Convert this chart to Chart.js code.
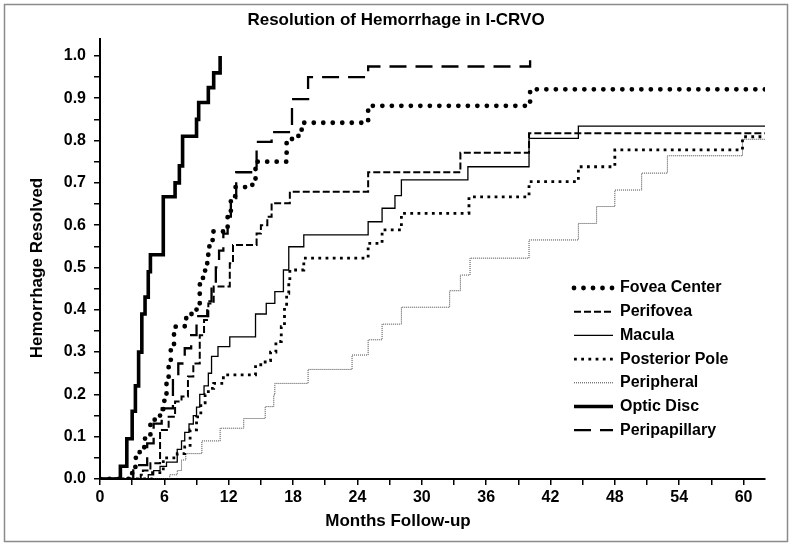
<!DOCTYPE html>
<html>
<head>
<meta charset="utf-8">
<script src="https://cdn.jsdelivr.net/npm/chart.js@4.4.1/dist/chart.umd.min.js"></script>
<style>
  html, body { margin: 0; padding: 0; background: #fff; }
  #wrap { width: 792px; height: 547px; }
</style>
</head>
<body>
<div id="wrap"><canvas id="grafico" width="792" height="547"></canvas></div>
<script>
// meses de seguimento e fração resolvida (curvas em degrau)
const foveaMonths = [0, 3.0, 3.3, 3.7, 4.2, 4.7, 5.1, 5.6, 6.0, 6.2, 6.4, 6.6, 6.9, 7.9, 8.5, 9.0, 9.3, 9.6, 9.8, 10.0, 10.2, 10.5, 11.9, 12.2, 12.6, 14.2, 14.5, 17.4, 17.9, 18.5, 18.8, 25.0, 40.1, 62];
const foveaValues = [0, 0.02, 0.05, 0.075, 0.10, 0.13, 0.15, 0.165, 0.20, 0.24, 0.27, 0.31, 0.36, 0.38, 0.39, 0.415, 0.46, 0.48, 0.51, 0.53, 0.55, 0.585, 0.62, 0.66, 0.69, 0.71, 0.75, 0.80, 0.81, 0.82, 0.842, 0.882, 0.921, 0.921];

const perifoveaMonths = [0, 3.8, 4.0, 4.7, 5.6, 6.4, 7.0, 7.6, 8.2, 8.7, 9.3, 9.7, 10.1, 10.6, 12.1, 12.4, 14.6, 15.0, 15.6, 16.0, 17.7, 25.0, 33.6, 40.0, 62];
const perifoveaValues = [0, 0.01, 0.02, 0.037, 0.116, 0.147, 0.183, 0.195, 0.242, 0.273, 0.34, 0.376, 0.415, 0.455, 0.51, 0.553, 0.58, 0.60, 0.62, 0.652, 0.679, 0.725, 0.771, 0.817, 0.817];

const maculaMonths = [0, 4.5, 5.0, 5.6, 6.2, 7.2, 7.6, 7.9, 8.3, 8.7, 9.0, 9.3, 9.7, 10.1, 10.4, 11.0, 12.1, 14.5, 15.5, 16.3, 17.1, 17.6, 19.0, 25.0, 26.3, 27.5, 28.1, 34.3, 40.0, 44.6, 62];
const maculaValues = [0, 0.01, 0.02, 0.03, 0.04, 0.07, 0.09, 0.11, 0.13, 0.15, 0.17, 0.20, 0.22, 0.25, 0.29, 0.313, 0.336, 0.39, 0.415, 0.443, 0.494, 0.549, 0.577, 0.608, 0.64, 0.67, 0.707, 0.738, 0.805, 0.834, 0.834];

const posteriorMonths = [0, 4.9, 5.9, 7.2, 7.9, 8.4, 9.0, 9.4, 9.8, 10.1, 10.6, 11.5, 14.5, 15.4, 15.9, 16.4, 16.9, 17.2, 17.4, 17.6, 17.7, 19.0, 25.0, 26.3, 28.1, 34.4, 40.0, 44.6, 48.0, 59.9, 62];
const posteriorValues = [0, 0.015, 0.05, 0.06, 0.076, 0.116, 0.147, 0.18, 0.20, 0.214, 0.226, 0.246, 0.27, 0.28, 0.30, 0.325, 0.36, 0.407, 0.439, 0.463, 0.494, 0.522, 0.557, 0.589, 0.628, 0.667, 0.703, 0.738, 0.778, 0.809, 0.809];

const peripheralMonths = [0, 6.5, 7.2, 7.6, 8.0, 9.5, 11.2, 13.4, 15.4, 16.2, 16.3, 19.4, 23.5, 25.0, 26.3, 28.1, 32.6, 33.6, 34.5, 40.0, 44.6, 46.3, 48.0, 50.5, 52.9, 59.9, 62];
const peripheralValues = [0, 0.01, 0.02, 0.045, 0.06, 0.09, 0.12, 0.143, 0.171, 0.199, 0.226, 0.259, 0.293, 0.329, 0.366, 0.406, 0.445, 0.482, 0.522, 0.565, 0.604, 0.644, 0.683, 0.723, 0.764, 0.803, 0.803];

const opticMonths = [0, 1.9, 2.5, 3.0, 3.3, 3.6, 3.9, 4.2, 4.5, 4.7, 5.9, 7.0, 7.4, 7.7, 9.0, 9.2, 10.1, 10.6, 11.2];
const opticValues = [0, 0.03, 0.095, 0.16, 0.22, 0.30, 0.39, 0.43, 0.49, 0.53, 0.667, 0.70, 0.74, 0.81, 0.85, 0.89, 0.925, 0.96, 1.0];

const peripapMonths = [0, 3.1, 4.4, 5.0, 5.75, 6.8, 7.3, 7.9, 8.5, 9.0, 10.0, 10.4, 10.8, 11.1, 11.5, 11.9, 12.2, 12.7, 14.6, 16.0, 17.9, 19.4, 25.0, 40.1];
const peripapValues = [0, 0.033, 0.084, 0.131, 0.167, 0.242, 0.273, 0.309, 0.34, 0.385, 0.42, 0.46, 0.50, 0.54, 0.58, 0.62, 0.66, 0.725, 0.797, 0.82, 0.898, 0.95, 0.975, 0.99];

const xTicks = [0, 3, 6, 9, 12, 15, 18, 21, 24, 27, 30, 33, 36, 39, 42, 45, 48, 51, 54, 57, 60];
const yTicks = [0, 0.05, 0.1, 0.15, 0.2, 0.25, 0.3, 0.35, 0.4, 0.45, 0.5, 0.55, 0.6, 0.65, 0.7, 0.75, 0.8, 0.85, 0.9, 0.95, 1.0];

const pontos = (meses, valores) => meses.map((m, i) => ({ x: m, y: valores[i] }));

const fonte = '"Liberation Sans", Arial, sans-serif';

// legenda desenhada dentro da área do gráfico
const legendaInterna = {
  id: 'legendaInterna',
  afterDraw(chart) {
    const ctx = chart.ctx;
    chart.data.datasets.forEach((ds, i) => {
      const y = 288 + i * 23.7;
      ctx.save();
      ctx.strokeStyle = ds.borderColor;
      ctx.lineWidth = ds.borderWidth;
      ctx.lineCap = ds.borderCapStyle || 'butt';
      ctx.setLineDash(ds.borderDash || []);
      ctx.beginPath();
      ctx.moveTo(574, y);
      ctx.lineTo(613, y);
      ctx.stroke();
      ctx.setLineDash([]);
      ctx.fillStyle = '#000';
      ctx.font = 'bold 16px ' + fonte;
      ctx.textAlign = 'left';
      ctx.textBaseline = 'middle';
      ctx.fillText(ds.label, 620, y);
      ctx.restore();
    });
  }
};

// títulos dos eixos e moldura
const extras = {
  id: 'extras',
  afterDraw(chart) {
    const ctx = chart.ctx;
    ctx.save();
    ctx.fillStyle = '#000';
    ctx.font = 'bold 17px ' + fonte;
    ctx.textAlign = 'center';
    ctx.textBaseline = 'middle';
    ctx.fillText('Months Follow-up', 398, 521);
    ctx.translate(37, 268);
    ctx.rotate(-Math.PI / 2);
    ctx.fillText('Hemorrhage Resolved', 0, 0);
    ctx.restore();
    ctx.save();
    ctx.strokeStyle = '#8a8a8a';
    ctx.lineWidth = 1.5;
    ctx.strokeRect(4.5, 4.5, 783, 537);
    ctx.restore();
  }
};

new Chart(document.getElementById('grafico'), {
  type: 'line',
  data: {
    datasets: [
      {
        label: 'Fovea Center',
        data: pontos(foveaMonths, foveaValues),
        borderColor: '#000',
        borderWidth: 4.8,
        borderDash: [0, 9.5],
        borderCapStyle: 'round',
      },
      {
        label: 'Perifovea',
        data: pontos(perifoveaMonths, perifoveaValues),
        borderColor: '#000',
        borderWidth: 2,
        borderDash: [7, 3],
      },
      {
        label: 'Macula',
        data: pontos(maculaMonths, maculaValues),
        borderColor: '#000',
        borderWidth: 1.3,
      },
      {
        label: 'Posterior Pole',
        data: pontos(posteriorMonths, posteriorValues),
        borderColor: '#000',
        borderWidth: 2.8,
        borderDash: [2.8, 4.4],
      },
      {
        label: 'Peripheral',
        data: pontos(peripheralMonths, peripheralValues),
        borderColor: '#444',
        borderWidth: 1,
        borderDash: [1, 1],
      },
      {
        label: 'Optic Disc',
        data: pontos(opticMonths, opticValues),
        borderColor: '#000',
        borderWidth: 3.6,
      },
      {
        label: 'Peripapillary',
        data: pontos(peripapMonths, peripapValues),
        borderColor: '#000',
        borderWidth: 2.3,
        borderDash: [17, 9],
      },
    ],
  },
  options: {
    responsive: false,
    animation: false,
    devicePixelRatio: 1,
    elements: {
      point: { radius: 0 },
      line: { stepped: true, tension: 0, fill: false },
    },
    layout: { padding: { left: 27, right: 27, top: 0, bottom: 0 } },
    plugins: {
      legend: { display: false },
      tooltip: { enabled: false },
      title: {
        display: true,
        text: 'Resolution of Hemorrhage in I-CRVO',
        color: '#000',
        font: { size: 17, weight: 'bold', family: fonte },
        padding: { top: 10, bottom: 8.6 },
      },
    },
    scales: {
      x: {
        type: 'linear',
        min: 0,
        max: 62,
        afterBuildTicks: (axis) => { axis.ticks = xTicks.map(v => ({ value: v })); },
        afterFit: (scale) => { scale.height = 68; },
        ticks: {
          color: '#000',
          font: { size: 16, weight: 'bold', family: fonte },
          padding: 3,
          maxRotation: 0,
          autoSkip: false,
          callback: (v) => (v % 6 === 0 ? v : ''),
        },
        grid: { drawOnChartArea: false, drawTicks: true, tickLength: 6, color: '#000', lineWidth: 1.5 },
        border: { display: true, color: '#000', width: 2 },
      },
      y: {
        min: 0,
        max: 1.04,
        afterBuildTicks: (axis) => { axis.ticks = yTicks.map(v => ({ value: v })); },
        afterFit: (scale) => { scale.width = 73; },
        ticks: {
          color: '#000',
          font: { size: 16, weight: 'bold', family: fonte },
          padding: 8,
          autoSkip: false,
          callback: (v) => (Math.round(v * 100) % 10 === 0 ? v.toFixed(1) : ''),
        },
        grid: { drawOnChartArea: false, drawTicks: true, tickLength: 6, color: '#000', lineWidth: 1.5 },
        border: { display: true, color: '#000', width: 2 },
      },
    },
  },
  plugins: [legendaInterna, extras],
});
</script>
</body>
</html>
